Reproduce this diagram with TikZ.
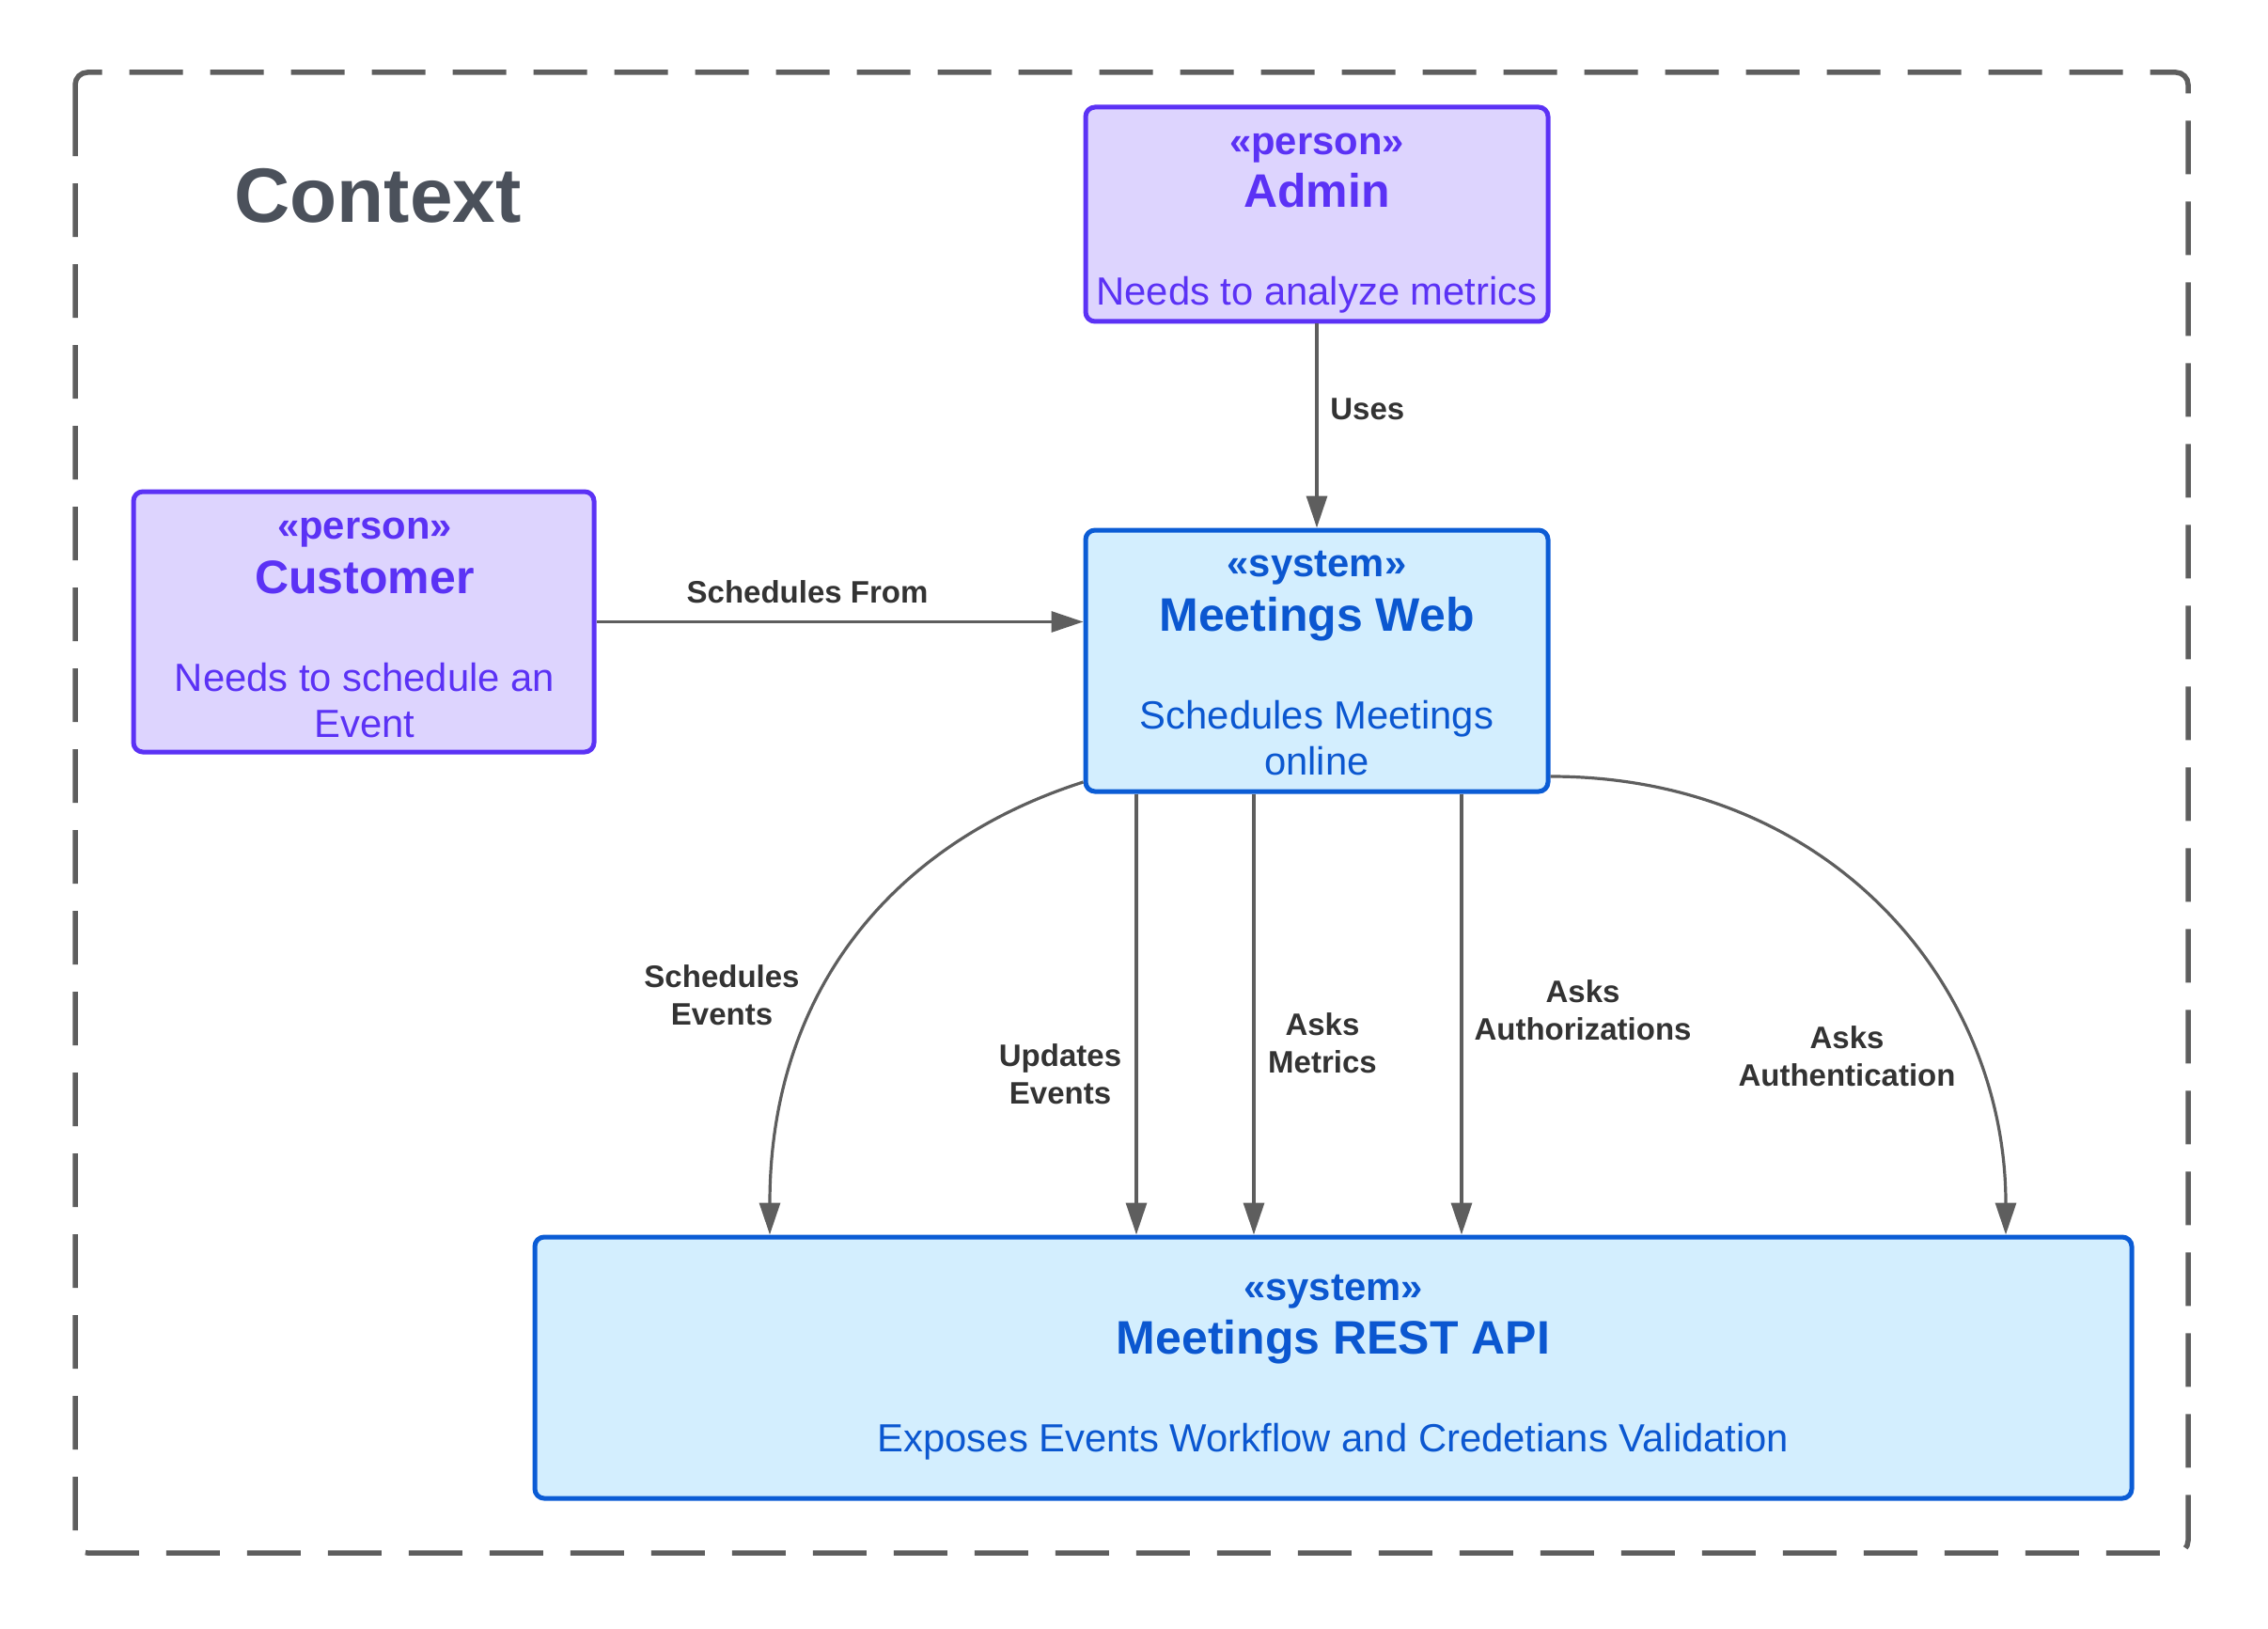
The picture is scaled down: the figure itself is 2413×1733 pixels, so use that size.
\documentclass[tikz,border=0pt]{standalone}
\usepackage{fontspec}
\setmainfont{Liberation Sans}
\usetikzlibrary{arrows.meta}
\definecolor{pfill}{HTML}{DDD4FE}
\definecolor{pline}{HTML}{5B32F5}
\definecolor{sfill}{HTML}{D3EEFE}
\definecolor{sline}{HTML}{0B5CD5}
\definecolor{stextcol}{HTML}{0B57D0}
\definecolor{conncol}{HTML}{5E5E5E}
\definecolor{lblcol}{HTML}{333333}
\definecolor{ctxcol}{HTML}{4B515B}
\newcommand{\mlines}[1]{\begin{tabular}[t]{@{}c@{}}#1\end{tabular}}
\begin{document}
\begin{tikzpicture}[x=0.5pt,y=-0.5pt,
  personbox/.style={draw=pline, fill=pfill, line width=2.5pt, rounded corners=5pt, inner sep=0pt},
  systembox/.style={draw=sline, fill=sfill, line width=2.5pt, rounded corners=5pt, inner sep=0pt},
  stereo/.style={font=\fontsize{20.9pt}{24.5pt}\selectfont\bfseries, anchor=base, inner sep=0pt},
  boxname/.style={font=\fontsize{25pt}{29pt}\selectfont\bfseries, anchor=base, inner sep=0pt},
  boxdesc/.style={font=\fontsize{20.9pt}{24.5pt}\selectfont, anchor=base, inner sep=0pt},
  ptext/.style={text=pline},
  stext/.style={text=stextcol},
  connector/.style={draw=conncol, line width=1.6pt, -{Triangle[length=17pt,width=11pt]}},
  elabel/.style={font=\fontsize{16.5pt}{20pt}\selectfont\bfseries, text=lblcol, anchor=base, inner sep=0pt},
]
\fill[white] (0,0) rectangle (2413,1733);
\useasboundingbox (0,0) rectangle (2413,1733);

% dashed context frame
\draw[draw=conncol, line width=2.75pt, dash pattern=on 28.5pt off 14.5pt, rounded corners=6.5pt]
  (80,124) -- (80,77) -- (2328,77) -- (2328,1652) -- (80,1652) -- cycle;
\node[font=\fontsize{41pt}{49pt}\selectfont\bfseries, text=ctxcol, anchor=base west, inner sep=0pt] (ctxt) at (249,237) {Context};

% boxes
\node[personbox, minimum width=245pt, minimum height=138.5pt] (customer) at (387,661.5) {};
\node[personbox, minimum width=246pt, minimum height=114pt] (admin) at (1401,228) {};
\node[systembox, minimum width=246pt, minimum height=139pt] (web) at (1401,703) {};
\node[systembox, minimum width=849.5pt, minimum height=139pt] (rest) at (1418.5,1455) {};

% box texts
\node[stereo, ptext] (custS) at (388,573.5) {«person»};
\node[boxname, ptext] (custN) at (388,631.5) {Customer};
\node[boxdesc, ptext] (custD) at (388,735.5) {\mlines{Needs to schedule an\\Event}};

\node[stereo, ptext] (admS) at (1401,164.5) {«person»};
\node[boxname, ptext] (admN) at (1401,220.5) {Admin};
\node[boxdesc, ptext] (admD) at (1401,324.5) {Needs to analyze metrics};

\node[stereo, stext] (webS) at (1401,613.5) {«system»};
\node[boxname, stext] (webN) at (1401,671.5) {Meetings Web};
\node[boxdesc, stext] (webD) at (1401,775.5) {\mlines{Schedules Meetings\\online}};

\node[stereo, stext] (restS) at (1418.5,1383) {«system»};
\node[boxname, stext] (restN) at (1418.5,1440.5) {Meetings REST API};
\node[boxdesc, stext] (restD) at (1418.5,1544) {Exposes Events Workflow and Credetians Validation};

% helper coordinates
\coordinate (xa) at (1209,0);
\coordinate (xb) at (1334,0);
\coordinate (xc) at (1555,0);
\coordinate (ls) at (0,832);
\coordinate (le) at (819,0);
\coordinate (rs) at (0,826);
\coordinate (re) at (2134,0);

% connectors
\draw[connector] (admin.south) -- (web.north);
\draw[connector] (customer.east) -- (web.west |- customer.east);
\draw[connector] (web.south -| xa) -- (rest.north -| xa);
\draw[connector] (web.south -| xb) -- (rest.north -| xb);
\draw[connector] (web.south -| xc) -- (rest.north -| xc);
\draw[connector] (web.west |- ls) .. controls (955,895) and (819,1050) .. (rest.north -| le);
\draw[connector] (web.east |- rs) .. controls (1950,826) and (2134,1050) .. (rest.north -| re);

% connector labels
\node[elabel, anchor=base west] (lUses) at (1415,446) {Uses};
\node[elabel] (lSF) at (859,641) {Schedules From};
\node[elabel] (lSE) at (768,1050) {\mlines{Schedules\\Events}};
\node[elabel] (lUE) at (1128,1134) {\mlines{Updates\\Events}};
\node[elabel] (lAM) at (1407,1101) {\mlines{Asks\\Metrics}};
\node[elabel] (lAZ) at (1684,1066) {\mlines{Asks\\Authorizations}};
\node[elabel] (lAN) at (1965,1115) {\mlines{Asks\\Authentication}};
\end{tikzpicture}
\end{document}
